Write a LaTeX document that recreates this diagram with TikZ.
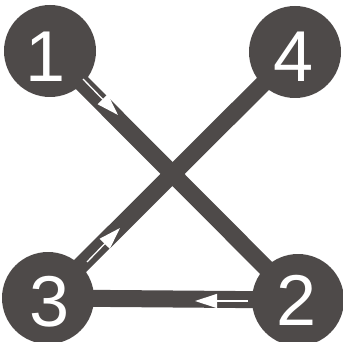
\documentclass[tikz,border=0pt]{standalone}
\usepackage{fontspec}
\setmainfont{Liberation Sans}
\usetikzlibrary{arrows.meta}
\definecolor{dk}{RGB}{78,74,73}
\begin{document}
\begin{tikzpicture}[x=1pt,y=-1pt,
  disc/.style={circle,fill=dk,minimum size=92pt,inner sep=0pt},
  num/.style={text=white,font=\fontsize{72}{72}\selectfont,anchor=base,inner sep=0pt},
  bar/.style={draw=dk,line width=17pt},
  flow/.style={draw=white,line width=1.3pt,-{Triangle[length=22pt,width=14pt]}}]
\useasboundingbox (0,0) rectangle (343,342);
\coordinate (c1) at (50,51);
\coordinate (c4) at (295,52);
\coordinate (c3) at (48,298);
\coordinate (c2) at (298,300);
\draw[bar] (c1) -- (c2);
\draw[bar] (c3) -- (c4);
\draw[bar] (c3) -- (c2);
\node[disc] (n1) at (c1) {};
\node[disc] (n4) at (c4) {};
\node[disc] (n3) at (c3) {};
\node[disc] (n2) at (c2) {};
\node[num] (t1) at (46,82) {1};
\node[num] (t4) at (294,82) {4};
\node[num] (t3) at (50,326) {3};
\node[num] (t2) at (297,325) {2};
\coordinate (a1s) at (83,79);
\coordinate (a1e) at (118,115);
\coordinate (a3s) at (87,262);
\coordinate (a3e) at (120,228);
\coordinate (a2s) at (248,301);
\coordinate (a2e) at (195,301);
\draw[flow] (a1s) -- (a1e);
\draw[flow] (a3s) -- (a3e);
\draw[flow] (a2s) -- (a2e);
\end{tikzpicture}
\end{document}
